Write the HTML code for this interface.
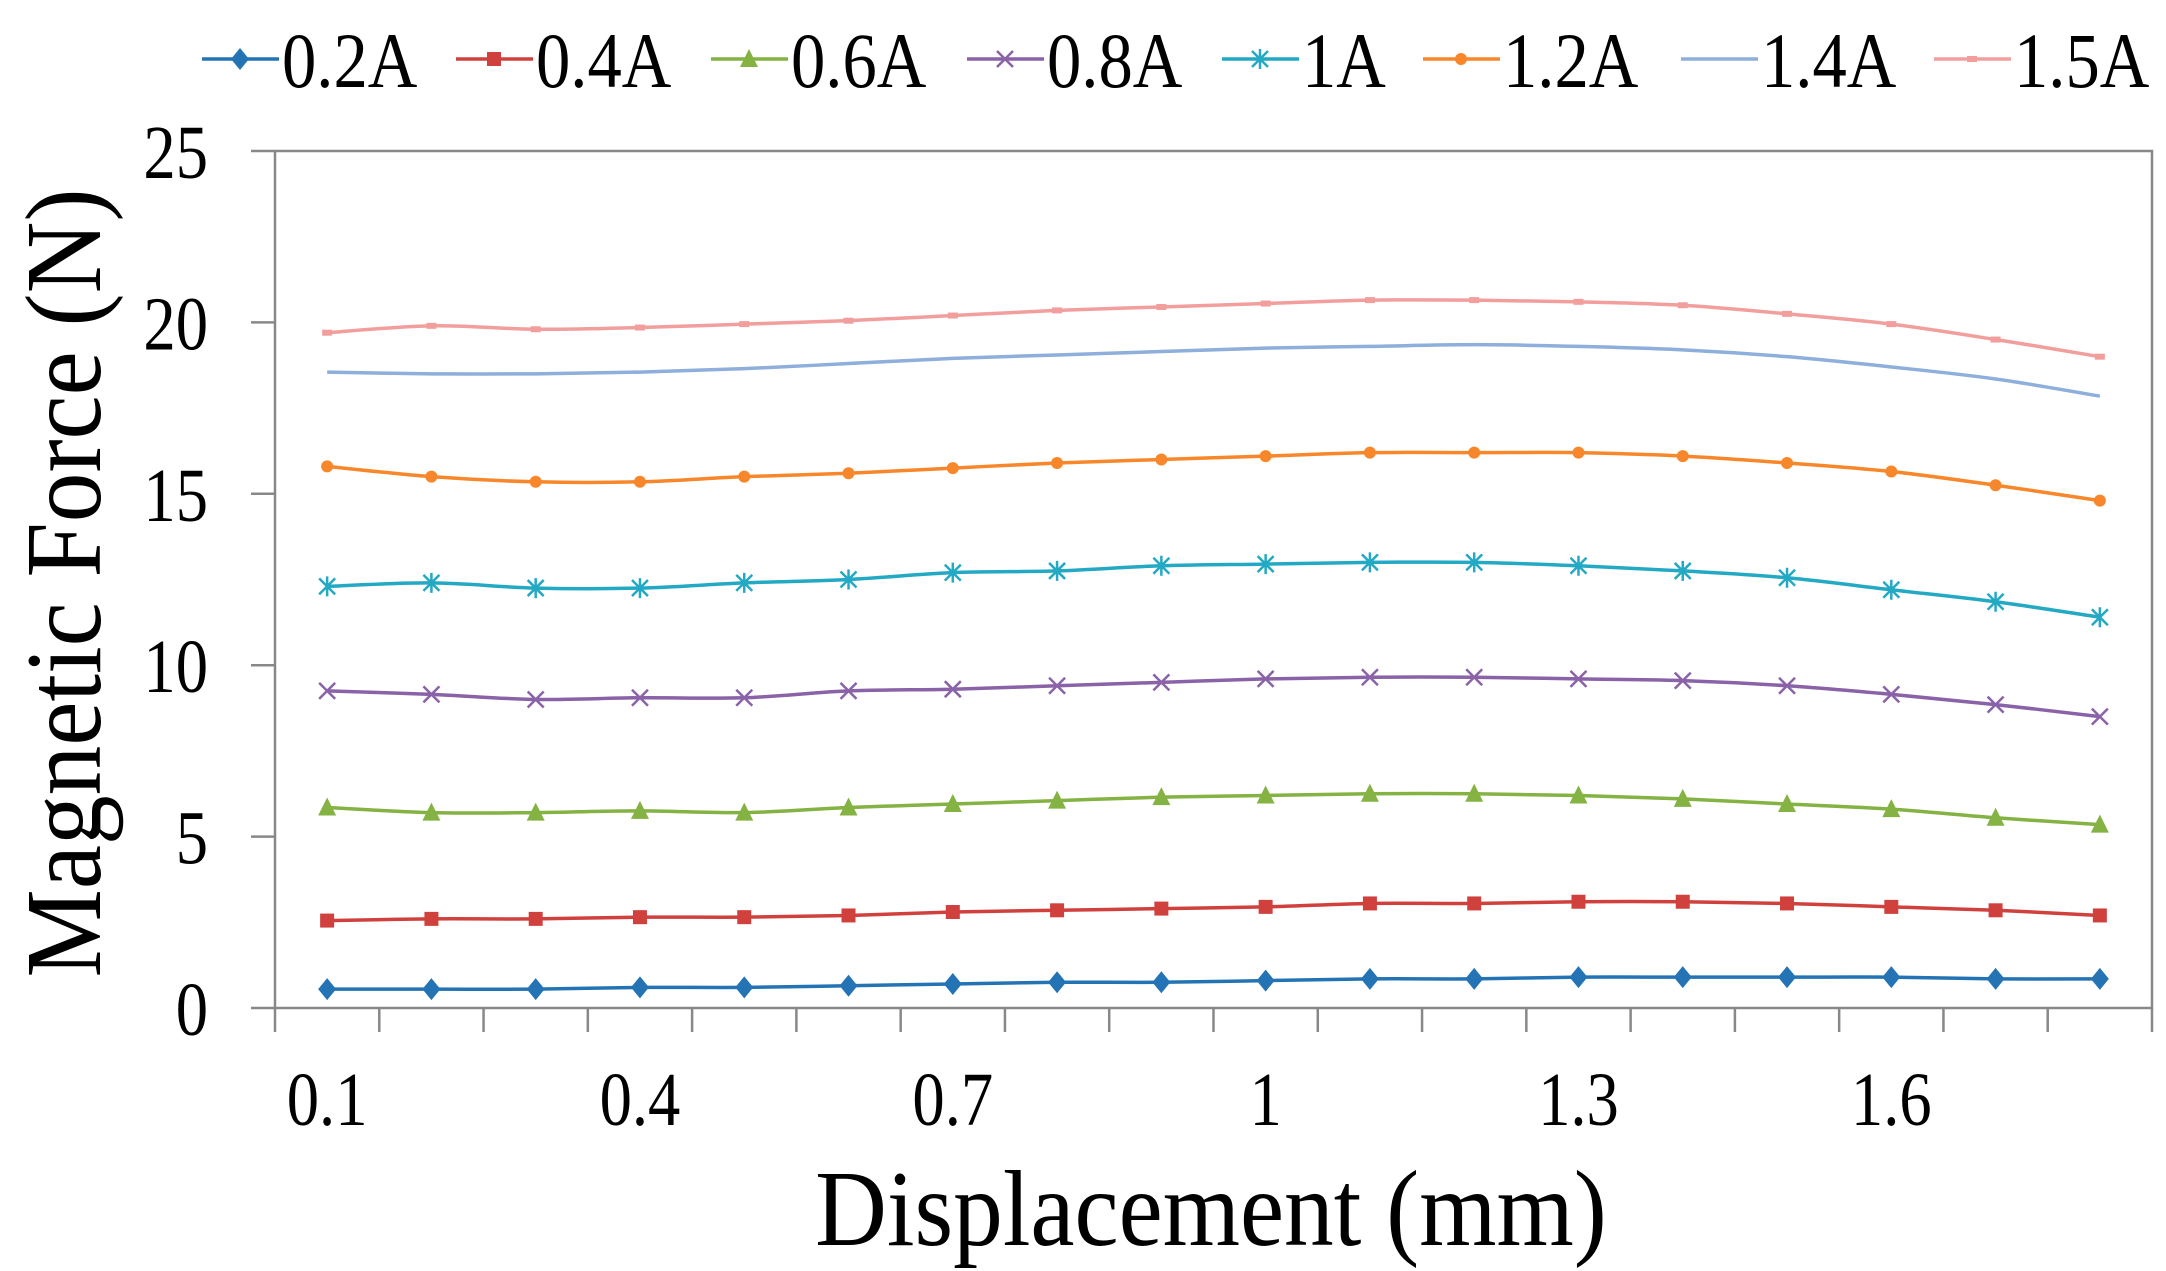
<!DOCTYPE html>
<html><head><meta charset="utf-8"><style>
html,body{margin:0;padding:0;background:#fff;}
svg{display:block;font-family:"Liberation Serif",serif;}
</style></head><body>
<svg id="chart" width="2166" height="1271" viewBox="0 0 2166 1271" xmlns="http://www.w3.org/2000/svg">
<rect x="275" y="151" width="1877" height="857" fill="#fff" stroke="#888" stroke-width="2.5"/>
<g id="axes"></g><g id="series"></g><g id="legend"></g>
<text transform="translate(1211,1245) scale(0.92,1)" font-size="108" text-anchor="middle">Displacement (mm)</text>
<text transform="translate(100,583) rotate(-90) scale(0.92,1)" font-size="108" text-anchor="middle">Magnetic Force (N)</text>
</svg>
<script>
const categories=[0.1,0.2,0.3,0.4,0.5,0.6,0.7,0.8,0.9,1.0,1.1,1.2,1.3,1.4,1.5,1.6,1.7,1.8];
const xTickLabels=["0.1","0.4","0.7","1","1.3","1.6"];
const yTicks=[0,5,10,15,20,25];
const seriesNames=["0.2A","0.4A","0.6A","0.8A","1A","1.2A","1.4A","1.5A"];
const s02=[0.55,0.55,0.55,0.6,0.6,0.65,0.7,0.75,0.75,0.8,0.85,0.85,0.9,0.9,0.9,0.9,0.85,0.85];
const s04=[2.55,2.6,2.6,2.65,2.65,2.7,2.8,2.85,2.9,2.95,3.05,3.05,3.1,3.1,3.05,2.95,2.85,2.7];
const s06=[5.85,5.7,5.7,5.75,5.7,5.85,5.95,6.05,6.15,6.2,6.25,6.25,6.2,6.1,5.95,5.8,5.55,5.35];
const s08=[9.25,9.15,9.0,9.05,9.05,9.25,9.3,9.4,9.5,9.6,9.65,9.65,9.6,9.55,9.4,9.15,8.85,8.5];
const s10=[12.3,12.4,12.25,12.25,12.4,12.5,12.7,12.75,12.9,12.95,13.0,13.0,12.9,12.75,12.55,12.2,11.85,11.4];
const s12=[15.8,15.5,15.35,15.35,15.5,15.6,15.75,15.9,16.0,16.1,16.2,16.2,16.2,16.1,15.9,15.65,15.25,14.8];
const s14=[18.55,18.5,18.5,18.55,18.65,18.8,18.95,19.05,19.15,19.25,19.3,19.35,19.3,19.2,19.0,18.7,18.35,17.85];
const s15=[19.7,19.9,19.8,19.85,19.95,20.05,20.2,20.35,20.45,20.55,20.65,20.65,20.6,20.5,20.25,19.95,19.5,19.0];

const NS="http://www.w3.org/2000/svg";
const L=275,R=2152,T=151,B=1008,YMAX=25;
const step=(R-L)/categories.length;
const xs=i=>L+step*(i+0.5);
const ys=v=>B-(v/YMAX)*(B-T);
function mk(tag,attrs,parent){const e=document.createElementNS(NS,tag);for(const k in attrs)e.setAttribute(k,attrs[k]);parent.appendChild(e);return e;}
const axes=document.getElementById('axes');
yTicks.forEach(v=>{
  const y=ys(v);
  const t=mk('line',{x1:L-24,x2:L,y1:y,y2:y,stroke:'#888','stroke-width':2.5},axes);
  
  
  const lb=mk('text',{transform:`translate(208,${y+27}) scale(0.85,1)`,'font-size':76,'text-anchor':'end'},axes);
  lb.textContent=v;
  
  
});
for(let i=0;i<=categories.length;i++){
  const x=L+step*i;
  const t=mk('line',{x1:x,x2:x,y1:B,y2:B+24,stroke:'#888','stroke-width':2.5},axes);
  
  
}
xTickLabels.forEach((s,j)=>{
  const lb=mk('text',{transform:`translate(${xs(j*3)},1125) scale(0.85,1)`,'font-size':76,'text-anchor':'middle'},axes);
  lb.textContent=s;
  
  
});
const data=[s02,s04,s06,s08,s10,s12,s14,s15];
const colors=["#2474b5","#d0413e","#84b243","#8a62a8","#23a9c4","#f7872a","#8eaedb","#f29e9d"];
const markers=["diamond","square","triangle","x","star","circle","none","dash"];
function smooth(pts){
  let d=`M${pts[0][0]},${pts[0][1]}`;
  for(let i=0;i<pts.length-1;i++){
    const p0=pts[Math.max(0,i-1)],p1=pts[i],p2=pts[i+1],p3=pts[Math.min(pts.length-1,i+2)];
    const c1=[p1[0]+(p2[0]-p0[0])/6,p1[1]+(p2[1]-p0[1])/6];
    const c2=[p2[0]-(p3[0]-p1[0])/6,p2[1]-(p3[1]-p1[1])/6];
    d+=` C${c1[0]},${c1[1]} ${c2[0]},${c2[1]} ${p2[0]},${p2[1]}`;
  }
  return d;
}
function marker(type,x,y,c,g,sc){
  sc=sc||1;let e=null;
  if(type==="diamond")e=mk('polygon',{points:`${x},${y-11*sc} ${x+9*sc},${y} ${x},${y+11*sc} ${x-9*sc},${y}`,fill:c},g);
  else if(type==="square")e=mk('rect',{x:x-7*sc,y:y-7*sc,width:14*sc,height:14*sc,fill:c},g);
  else if(type==="triangle")e=mk('polygon',{points:`${x},${y-10*sc} ${x+9*sc},${y+8*sc} ${x-9*sc},${y+8*sc}`,fill:c},g);
  else if(type==="x")e=mk('path',{d:`M${x-8*sc},${y-8*sc}L${x+8*sc},${y+8*sc}M${x+8*sc},${y-8*sc}L${x-8*sc},${y+8*sc}`,stroke:c,'stroke-width':2.5},g);
  else if(type==="star")e=mk('path',{d:`M${x-8*sc},${y-8*sc}L${x+8*sc},${y+8*sc}M${x+8*sc},${y-8*sc}L${x-8*sc},${y+8*sc}M${x},${y-10*sc}L${x},${y+10*sc}`,stroke:c,'stroke-width':2.5},g);
  else if(type==="circle")e=mk('circle',{cx:x,cy:y,r:6*sc,fill:c},g);
  else if(type==="dash")e=mk('rect',{x:x-5*sc,y:y-3*sc,width:10*sc,height:6*sc,fill:c},g);
  if(e){}
}
const sg=document.getElementById('series');
data.forEach((arr,si)=>{
  const g=mk('g',{},sg);
  
  
  const pts=arr.map((v,i)=>[xs(i),ys(v)]);
  const p=mk('path',{d:smooth(pts),fill:'none',stroke:colors[si],'stroke-width':3.5},g);
  
  
  pts.forEach(q=>marker(markers[si],q[0],q[1],colors[si],g));
});
const lg=document.getElementById('legend');
const legX=[202,456,711,967,1222,1423,1681,1934];
seriesNames.forEach((n,i)=>{
  const g=mk('g',{},lg);
  
  
  const x=legX[i],y=59;
  mk('line',{x1:x,x2:x+77,y1:y,y2:y,stroke:colors[i],'stroke-width':3.5},g);
  marker(markers[i],x+38,y,colors[i],g);
  const t=mk('text',{transform:`translate(${x+80},${y+28}) scale(0.88,1)`,'font-size':78},g);
  t.textContent=n;
});
</script>
</body></html>
